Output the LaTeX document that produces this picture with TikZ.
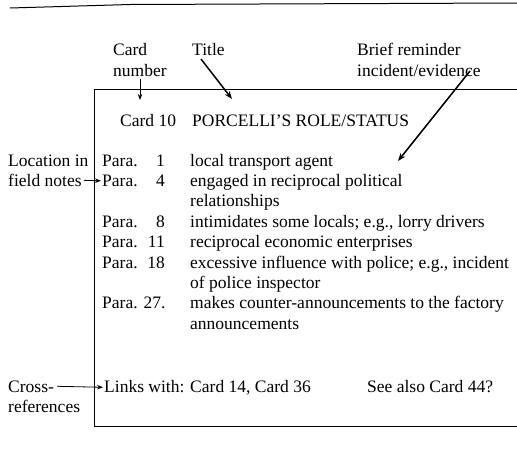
\documentclass[tikz,border=0pt]{standalone}
\usepackage{fontspec}
\setmainfont{Liberation Serif}
\usetikzlibrary{arrows.meta}
\begin{document}
\begin{tikzpicture}[x=1pt,y=-1pt,
  txt/.style={anchor=base west,inner sep=0pt,font=\fontsize{17.5}{20}\selectfont},
  num/.style={txt,anchor=base east},
  ptr/.style={-{Stealth[length=6pt,width=4.5pt]},line width=0.8pt},
  heavy ptr/.style={ptr,line width=1.5pt,-{Stealth[length=8pt,width=6pt]}}]
\useasboundingbox (0,0) rectangle (517,453);
% page edge
\draw[line width=1pt] (10,8) -- (130,4.5) -- (517,3);
% card outline (right side runs off the page)
\draw[line width=0.9pt] (530,89) -- (94,89) -- (94,426) -- (530,426);

% annotations above the card
\node[txt] (cardlbl) at (113,55) {Card};
\node[txt] (numlbl) at (113,76) {number};
\node[txt] (titlelbl) at (192,55) {Title};
\node[txt] (brieflbl) at (357,55) {Brief reminder};
\node[txt] (evidlbl) at (357,76) {incident/evidence};

% card heading
\node[txt] (cardno) at (120,126) {Card 10};
\node[txt] (title) at (192,126) {PORCELLI'S ROLE/STATUS};

% entries
\node[txt] (p1) at (102,166) {Para.};
\node[num] (n1) at (165,166) {1};
\node[txt] (d1) at (190,166) {local transport agent};
\node[txt] (p4) at (102,186.4) {Para.};
\node[num] (n4) at (165,186.4) {4};
\node[txt] (d4) at (190,186.4) {engaged in reciprocal political};
\node[txt] (d4b) at (190,206.8) {relationships};
\node[txt] (p8) at (102,227.2) {Para.};
\node[num] (n8) at (165,227.2) {8};
\node[txt] (d8) at (190,227.2) {intimidates some locals; e.g., lorry drivers};
\node[txt] (p11) at (102,247.6) {Para.};
\node[num] (n11) at (165,247.6) {11};
\node[txt] (d11) at (190,247.6) {reciprocal economic enterprises};
\node[txt] (p18) at (102,268) {Para.};
\node[num] (n18) at (165,268) {18};
\node[txt] (d18) at (190,268) {excessive influence with police; e.g., incident};
\node[txt] (d18b) at (190,288.4) {of police inspector};
\node[txt] (p27) at (102,308.8) {Para. 27.};
\node[txt] (d27) at (190,308.8) {makes counter-announcements to the factory};
\node[txt] (d27b) at (190,329.2) {announcements};

% cross-references
\node[txt] (links) at (104,392) {Links with: Card 14, Card 36};
\node[txt] (seealso) at (367,392) {See also Card 44?};

% margin labels
\node[txt] (loclbl) at (8,166) {Location in};
\node[txt] (fieldlbl) at (8,186.4) {field notes};
\node[txt] (crosslbl) at (8,392) {Cross-};
\node[txt] (reflbl) at (8,412) {references};

% pointers
\coordinate (numtail) at (140,79);
\coordinate (numtip) at (140,100);
\draw[ptr] (numtail) -- (numtip);
\coordinate (titletail) at (201,59);
\coordinate (titletip) at (232,99);
\draw[heavy ptr] (titletail) -- (titletip);
\coordinate (evidtail) at (470,71);
\coordinate (evidtip) at (398,161);
\draw[heavy ptr] (evidtail) -- (evidtip);
\draw[ptr] ([xshift=2pt]fieldlbl.east) -- ([xshift=-1pt]p4.west);
\draw[ptr] ([xshift=3pt]crosslbl.east) -- ([xshift=-1pt]links.west);
\end{tikzpicture}
\end{document}
